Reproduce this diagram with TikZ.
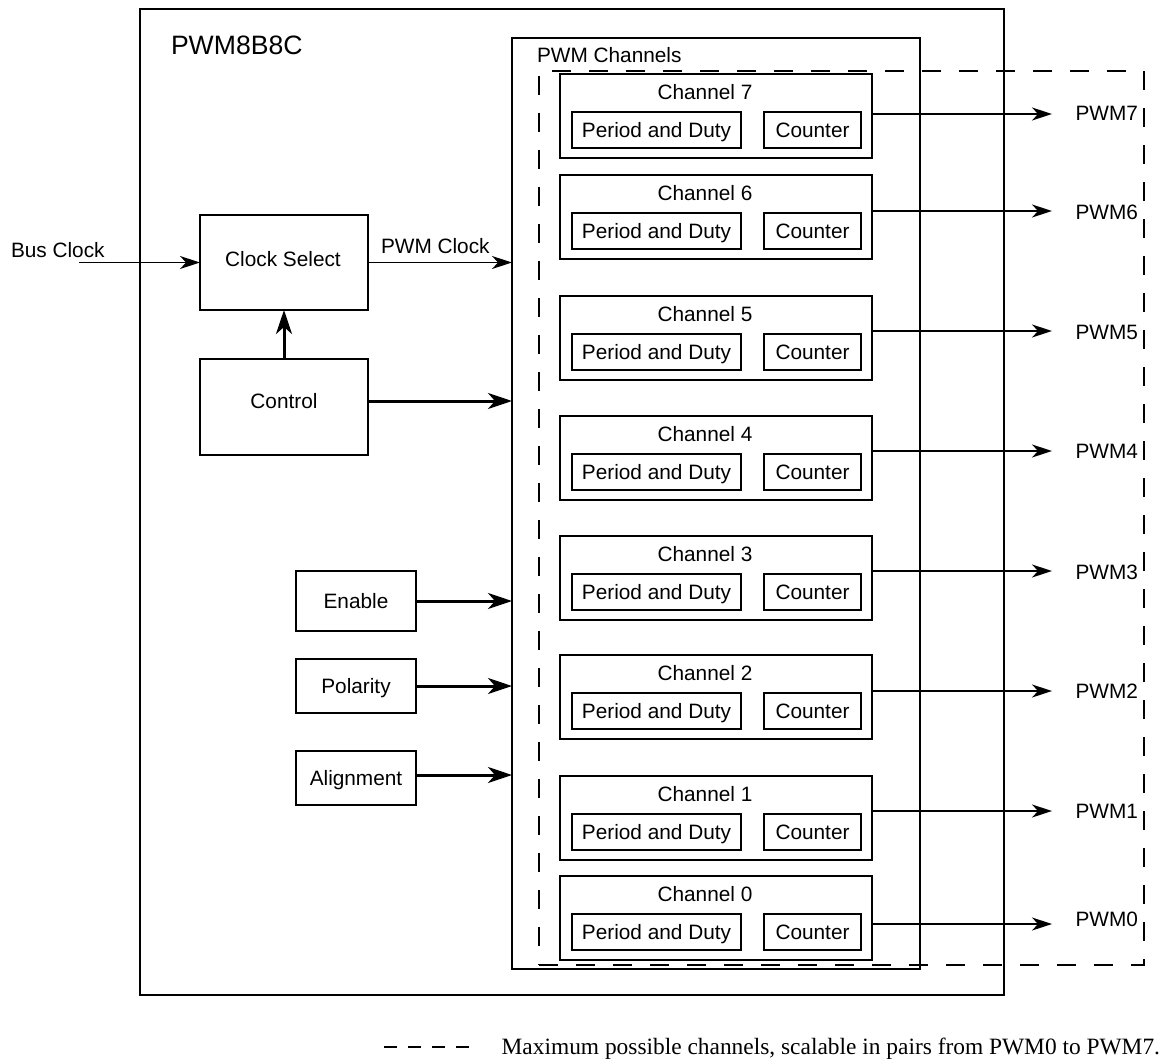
\documentclass[tikz,border=0pt]{standalone}
\usepackage{fontspec}
\setmainfont{Liberation Sans}
\newfontfamily\capfont{Liberation Serif}
\usetikzlibrary{arrows.meta,calc}
\begin{document}
\begin{tikzpicture}[x=0.5pt,y=-0.5pt,
  box/.style={draw, line width=0.8pt, inner sep=0pt, outer sep=0pt},
  txt/.style={inner sep=0pt, outer sep=0pt, font=\fontsize{10.4}{12}\selectfont},
  intxt/.style={txt, text height=7.45pt, text depth=0pt},
  thinarrow/.style={line width=0.8pt, -{Stealth[length=10pt,width=6.5pt,inset=3pt]}},
  thickarrow/.style={line width=1.5pt, -{Stealth[length=12pt,width=8pt,inset=3.5pt]}},
  dashbox/.style={draw, line width=0.8pt, dash pattern=on 9.5pt off 9pt, inner sep=0pt, outer sep=0pt}
]
\useasboundingbox (0,0) rectangle (1165,1059);

% outer block
\node[box, minimum width=432pt, minimum height=493pt] (outer) at (572,502) {};
\node[txt, font=\fontsize{13.3}{16}\selectfont, anchor=base west] (title) at (171,55) {PWM8B8C};

% PWM channels block
\node[box, minimum width=204pt, minimum height=465.5pt] (chan) at (716,503.5) {};
\node[txt, anchor=base west] (chanlbl) at (537,63) {PWM Channels};
\node[dashbox, minimum width=302.5pt, minimum height=447pt] (maxbox) at (841.5,518) {};

% channels
\foreach \n/\t/\a/\l in {7/74/40/39, 6/175/36/37, 5/296/35/36, 4/416/35/35, 3/536/35/36, 2/655/36/36, 1/776/35/35, 0/876/48/43} {
  \node[box, minimum width=156pt, minimum height=42pt] (ch\n) at (716,\t+42) {};
  \node[intxt] (cht\n) at (705,\t+18) {Channel \n};
  \node[box, intxt, minimum width=84.5pt, minimum height=18pt] (pd\n) at (656.5,\t+56) {Period and Duty};
  \node[box, intxt, minimum width=48.5pt, minimum height=18pt] (cnt\n) at (812.5,\t+56) {Counter};
  \coordinate (out\n) at (1052,\t+\a);
  \draw[thinarrow] (ch\n.east |- out\n) -- (out\n);
  \node[intxt, anchor=east] (pwm\n) at (1138,\t+\l) {PWM\n};
}

% clock select
\node[box, minimum width=84pt, minimum height=47.5pt] (cs) at (284,262.5) {};
\node[intxt] (cst) at (283,259) {Clock Select};
\coordinate (busin) at (79,262.5);
\node[txt, anchor=base west] (bus) at (11,257) {Bus Clock};
\draw[thinarrow] (busin) -- (cs.west);
\node[txt, anchor=base west] (pwmclk) at (381,253) {PWM Clock};
\draw[thinarrow] (cs.east) -- (cs.east -| chan.west);

% control
\node[box, minimum width=84pt, minimum height=48pt] (ctrl) at (284,407) {};
\node[intxt] (ctrlt) at (284,401) {Control};
\draw[thickarrow] (ctrl.north) -- (cs.south);
\draw[thickarrow] (ctrl.east |- ctrlt) -- (ctrlt -| chan.west);

% enable / polarity / alignment
\node[box, intxt, minimum width=60pt, minimum height=30pt] (en) at (356,601) {Enable};
\node[box, intxt, minimum width=60pt, minimum height=27pt] (pol) at (356,686) {Polarity};
\node[box, intxt, minimum width=60pt, minimum height=27pt] (ali) at (356,778) {Alignment};
\draw[thickarrow] (en.east) -- (en.east -| chan.west);
\draw[thickarrow] (pol.east) -- (pol.east -| chan.west);
\coordinate (alin) at (512,775);
\draw[thickarrow] (ali.east |- alin) -- (alin);

% legend
\node[inner sep=0pt, outer sep=0pt, anchor=base east, font=\capfont\fontsize{11.7}{14}\selectfont] (cap) at (1160,1054) {Maximum possible channels, scalable in pairs from PWM0 to PWM7.};
\coordinate (lg1) at (384,1047);
\coordinate (lg2) at (470,1047);
\draw[line width=0.8pt, dash pattern=on 6.5pt off 5.5pt] (lg1) -- (lg2);
\end{tikzpicture}
\end{document}
